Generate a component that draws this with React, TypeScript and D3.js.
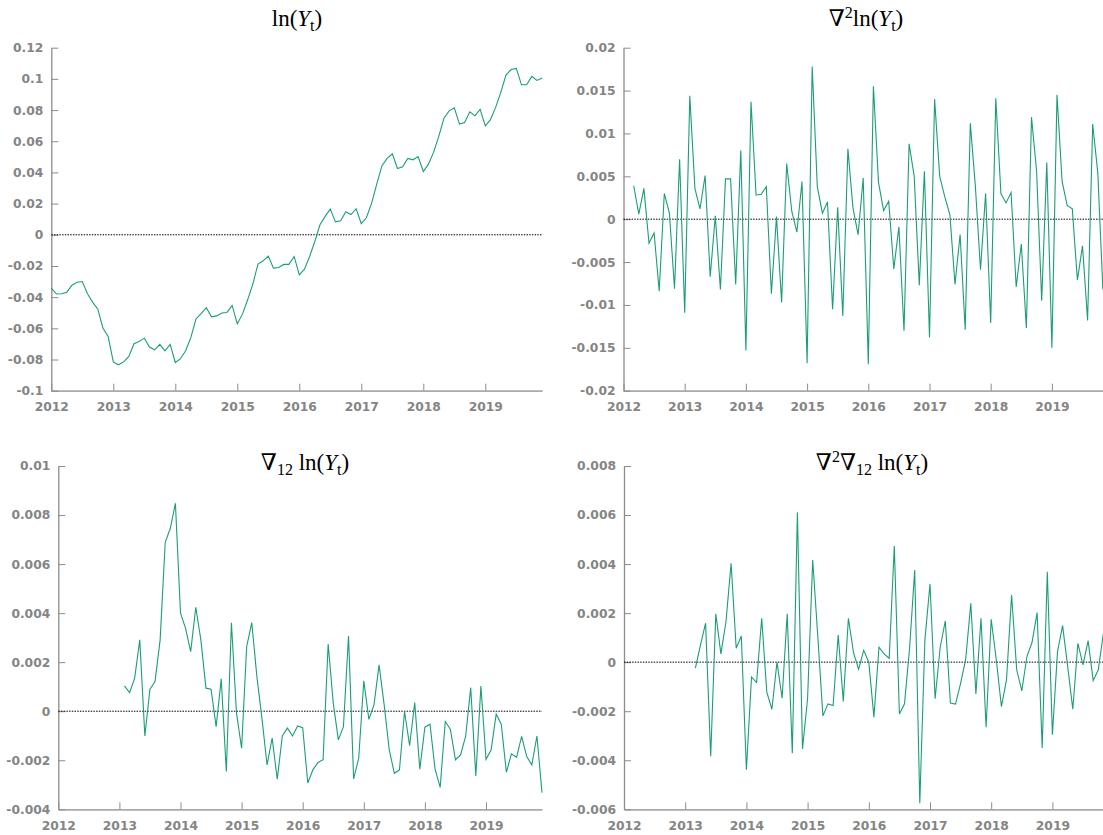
import React, { useEffect, useRef } from 'react';
import * as d3 from 'd3';

// Monthly series, month index 0 = Jan 2012
const years = [2012, 2013, 2014, 2015, 2016, 2017, 2018, 2019];
const lastMonth = 95;

// ln(Y_t), Jan 2012 - Dec 2019
const lnYStart = 0;
const lnY = [
  -0.0342, -0.038, -0.0378, -0.0368, -0.0323, -0.0304, -0.030, -0.0378, -0.0432, -0.0477, -0.0599, -0.0652,
  -0.0815, -0.0834, -0.0815, -0.078, -0.0699, -0.0684, -0.0663, -0.072, -0.0738, -0.0703, -0.0744, -0.0703,
  -0.0819, -0.0795, -0.0744, -0.066, -0.054, -0.0505, -0.0468, -0.0526, -0.052, -0.0502, -0.0498, -0.0453,
  -0.0571, -0.0509, -0.0417, -0.0316, -0.0188, -0.0167, -0.0137, -0.0214, -0.021, -0.019, -0.019, -0.0139,
  -0.0257, -0.022, -0.0139, -0.0043, 0.0064, 0.0118, 0.0165, 0.0083, 0.009, 0.0148, 0.013, 0.0167,
  0.0072, 0.0111, 0.0203, 0.0327, 0.0443, 0.049, 0.052, 0.0425, 0.0436, 0.049, 0.0481, 0.0502,
  0.0406, 0.0453, 0.053, 0.0631, 0.0748, 0.0795, 0.0815, 0.071, 0.072, 0.0789, 0.0763, 0.0804,
  0.0699, 0.0738, 0.0817, 0.0913, 0.1024, 0.106, 0.1067, 0.0962, 0.0962, 0.1016, 0.099, 0.1005,
];

// second difference, from Mar 2012
const d2lnYStart = 2;
const d2lnY = [
  0.0039, 0.0006, 0.0036, -0.0028, -0.0016, -0.0084, 0.003, 0.0007, -0.0081, 0.007,
  -0.0109, 0.0144, 0.0036, 0.0012, 0.0051, -0.0067, 0.0004, -0.0082, 0.0047, 0.0047, -0.0076, 0.008,
  -0.0153, 0.0137, 0.0028, 0.0029, 0.0038, -0.0087, 0.0003, -0.0097, 0.0065, 0.0009, -0.0015, 0.0044,
  -0.0168, 0.0178, 0.0038, 0.0007, 0.002, -0.0105, 0.0014, -0.0113, 0.0082, 0.0013, -0.0018, 0.0048,
  -0.0169, 0.0155, 0.0043, 0.001, 0.0021, -0.0058, -0.0009, -0.013, 0.0088, 0.005, -0.0077, 0.0056,
  -0.0138, 0.014, 0.005, 0.0026, 0.0005, -0.0076, -0.0018, -0.0129, 0.0112, 0.0038, -0.0059, 0.003,
  -0.0121, 0.0141, 0.003, 0.0019, 0.0031, -0.0079, -0.0029, -0.0127, 0.0119, 0.0056, -0.0095, 0.0066,
  -0.015, 0.0145, 0.0044, 0.0016, 0.0012, -0.0071, -0.0031, -0.0118, 0.0111, 0.0054, -0.0082,
];

// seasonal difference, from Feb 2013
const d12lnYStart = 13;
const d12lnY = [
  0.00103, 0.00076, 0.00135, 0.00291, -0.00101, 0.0009, 0.00121, 0.00291, 0.00689, 0.00746, 0.00848,
  0.004, 0.00338, 0.00243, 0.00424, 0.00291, 0.00094, 0.0009, -0.00063, 0.00132, -0.00246, 0.00361, -0.00008,
  -0.00151, 0.00264, 0.00361, 0.00141, -0.00029, -0.00219, -0.0011, -0.00277, -0.00101, -0.00069, -0.00101, -0.0006,
  -0.00067, -0.00293, -0.00239, -0.00209, -0.00198, 0.00274, 0.00033, -0.00117, -0.00063, 0.00307, -0.00276, -0.00192,
  0.00124, -0.00033, 0.00026, 0.00189, 0.00026, -0.00158, -0.00253, -0.00239, -0.00001, -0.0014, 0.00035, -0.00236,
  -0.00065, -0.00053, -0.00236, -0.00311, -0.00042, -0.00073, -0.00198, -0.00178, -0.00103, 0.00096, -0.00264, 0.00103,
  -0.00196, -0.00158, -0.00012, -0.00053, -0.00249, -0.00174, -0.00188, -0.00103, -0.00185, -0.00219, -0.00101, -0.00332,
];

// second + seasonal difference, from Mar 2013
const d2d12lnYStart = 14;
const d2d12lnY = [
  -0.00024, 0.00071, 0.00159, -0.00384, 0.00197, 0.00034, 0.00166, 0.00403, 0.00057, 0.00107,
  -0.00439, -0.00061, -0.00083, 0.00179, -0.00122, -0.00192, 0.0, -0.00147, 0.00197, -0.00371, 0.0061, -0.00354,
  -0.00147, 0.00417, 0.00105, -0.00219, -0.0017, -0.00177, 0.00111, -0.0016, 0.00179, 0.00039, -0.00029, 0.00048,
  0.0, -0.00224, 0.00061, 0.00034, 0.00016, 0.00474, -0.00211, -0.0017, 0.00057, 0.00376, -0.00575, 0.00091,
  0.00319, -0.00149, 0.00061, 0.00168, -0.00167, -0.00171, -0.00086, 0.00012, 0.0024, -0.0013, 0.00179, -0.00265,
  0.00175, 0.0001, -0.00181, -0.00072, 0.00274, -0.00031, -0.00117, 0.00023, 0.0008, 0.00202, -0.0035, 0.00369,
  -0.00296, 0.00043, 0.00149, -0.00018, -0.00192, 0.00077, -0.00011, 0.00088, -0.00075, -0.00031, 0.00118,
];

// y tick values
const lnYTicks = [-0.1, -0.08, -0.06, -0.04, -0.02, 0, 0.02, 0.04, 0.06, 0.08, 0.1, 0.12];
const d2lnYTicks = [-0.02, -0.015, -0.01, -0.005, 0, 0.005, 0.01, 0.015, 0.02];
const d12lnYTicks = [-0.004, -0.002, 0, 0.002, 0.004, 0.006, 0.008, 0.01];
const d2d12lnYTicks = [-0.006, -0.004, -0.002, 0, 0.002, 0.004, 0.006, 0.008];

// titles: text pieces, 'i' = italic, 'sub'/'sup' = shifted
const lnYTitle = [['ln('], ['Y', 'i'], ['t', 'sub'], [')']];
const d2lnYTitle = [['∇'], ['2', 'sup'], ['ln('], ['Y', 'i'], ['t', 'sub'], [')']];
const d12lnYTitle = [['∇'], ['12', 'sub'], [' ln('], ['Y', 'i'], ['t', 'sub'], [')']];
const d2d12lnYTitle = [['∇'], ['2', 'sup'], ['∇'], ['12', 'sub'], [' ln('], ['Y', 'i'], ['t', 'sub'], [')']];

const panels = [
  { values: lnY, start: lnYStart, ticks: lnYTicks, title: lnYTitle,
    left: 51.3, yearPx: 62, top: 47.7, bottom: 390.7, titleX: 297, titleY: 26 },
  { values: d2lnY, start: d2lnYStart, ticks: d2lnYTicks, title: d2lnYTitle,
    left: 623.5, yearPx: 61.2, top: 47.7, bottom: 390.7, titleX: 866, titleY: 26 },
  { values: d12lnY, start: d12lnYStart, ticks: d12lnYTicks, title: d12lnYTitle,
    left: 58.3, yearPx: 61.1, top: 466, bottom: 809.3, titleX: 305, titleY: 470 },
  { values: d2d12lnY, start: d2d12lnYStart, ticks: d2d12lnYTicks, title: d2d12lnYTitle,
    left: 624, yearPx: 61.2, top: 466, bottom: 809.3, titleX: 872, titleY: 470 },
];

const svgWidth = 1103;
const svgHeight = 835;
const lineColor = '#1b9e77';
const tickFont = '"DejaVu Sans", Verdana, sans-serif';
const titleFont = '"Liberation Serif", "Times New Roman", "DejaVu Serif", serif';

function fmt(v: number) {
  return String(+v.toFixed(6));
}

export default function App() {
  const ref = useRef<SVGSVGElement | null>(null);

  useEffect(() => {
    const svg = d3.select(ref.current);
    svg.selectAll('*').remove();

    panels.forEach((p) => {
      const right = p.left + (lastMonth * p.yearPx) / 12;

      const x = d3.scaleLinear().domain([0, lastMonth]).range([p.left, right]);
      const y = d3.scaleLinear()
        .domain([p.ticks[0], p.ticks[p.ticks.length - 1]])
        .range([p.bottom, p.top]);

      const g = svg.append('g');

      // x-axis
      const xAxis = g.append('g')
        .attr('transform', `translate(0, ${p.bottom})`)
        .call(
          d3.axisBottom(x)
            .tickValues(years.map((yr) => (yr - years[0]) * 12))
            .tickFormat((m: any) => String(years[0] + m / 12))
            .tickSizeInner(-7)
            .tickSizeOuter(0)
            .tickPadding(12)
        );
      xAxis.select('.domain').attr('stroke', '#aaaaaa').attr('stroke-width', 1.8);

      // y-axis
      const yAxis = g.append('g')
        .attr('transform', `translate(${p.left}, 0)`)
        .call(
          d3.axisLeft(y)
            .tickValues(p.ticks)
            .tickFormat((v: any) => fmt(v))
            .tickSizeInner(-7)
            .tickSizeOuter(0)
            .tickPadding(8)
        );
      yAxis.select('.domain').attr('stroke', '#8c8c8c').attr('stroke-width', 1.3);

      [xAxis, yAxis].forEach((ax) => {
        ax.selectAll('.tick line').attr('stroke', '#8c8c8c').attr('stroke-width', 1);
        ax.selectAll('.tick text')
          .attr('fill', '#858585')
          .attr('font-family', tickFont)
          .attr('font-weight', 'bold')
          .attr('font-size', 12.3);
      });

      // zero line
      g.append('line')
        .attr('x1', x(0))
        .attr('x2', x(lastMonth))
        .attr('y1', y(0))
        .attr('y2', y(0))
        .attr('stroke', 'black')
        .attr('stroke-width', 1)
        .attr('stroke-dasharray', '1.5,1.2');

      // series
      const line = d3.line<number>()
        .x((_, i) => x(p.start + i))
        .y((d) => y(d));

      g.append('path')
        .datum(p.values)
        .attr('fill', 'none')
        .attr('stroke', lineColor)
        .attr('stroke-width', 1.1)
        .attr('d', line);

      // title
      const title = g.append('text')
        .attr('x', p.titleX)
        .attr('y', p.titleY)
        .attr('text-anchor', 'middle')
        .attr('font-family', titleFont)
        .attr('font-size', 23)
        .attr('fill', 'black');

      let shift = 0;
      p.title.forEach(([txt, kind]) => {
        const target = kind === 'sub' ? 5 : kind === 'sup' ? -8 : 0;
        const span = title.append('tspan').text(txt).attr('dy', target - shift);
        if (kind === 'i') span.attr('font-style', 'italic');
        if (kind === 'sub' || kind === 'sup') span.attr('font-size', 16);
        shift = target;
      });
    });
  }, []);

  return (
    <svg
      ref={ref}
      width={svgWidth}
      height={svgHeight}
      style={{ position: 'absolute', left: 0, top: 0, background: 'white', overflow: 'hidden' }}
    />
  );
}
